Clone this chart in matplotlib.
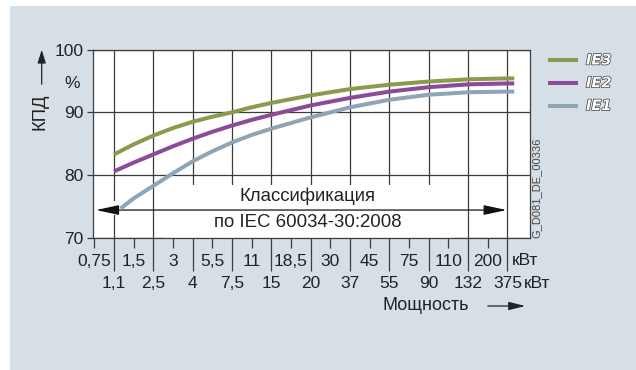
import matplotlib
matplotlib.use("Agg")
import matplotlib.pyplot as plt
import matplotlib.patheffects as pe
from matplotlib.patches import Rectangle, FancyArrowPatch

# x categories (kW): upper row at even slots, lower row at odd slots
power_top = ['0,75', '1,5', '3', '5,5', '11', '18,5', '30', '45', '75', '110', '200']
power_bottom = ['1,1', '2,5', '4', '7,5', '15', '20', '37', '55', '90', '132', '375']

# efficiency curves (%) read at these categories
curve_kw = ['1,1', '1,5', '2,5', '3', '4', '5,5', '7,5', '11', '15', '20',
            '37', '55', '90', '132', '375']
ie3 = [83.3, 84.9, 86.3, 87.5, 88.5, 89.3, 90.0, 90.8, 91.5, 92.7,
       93.7, 94.4, 94.9, 95.25, 95.4]
ie2 = [80.6, 82.0, 83.3, 84.6, 85.8, 86.9, 87.9, 88.8, 89.6, 91.1,
       92.3, 93.3, 94.0, 94.45, 94.6]
ie1 = [74.7, 76.3, 78.3, 80.3, 82.2, 83.8, 85.2, 86.4, 87.4, 89.2,
       90.8, 92.0, 92.8, 93.2, 93.3]

y_ticks = [70, 80, 90, 100]
series_names = ['IE3', 'IE2', 'IE1']
series_colors = ['#8a9b4e', '#8b4b99', '#8fa4b4']

W, H = 636, 370
FONT = 'Liberation Sans'
plt.rcParams['font.family'] = [FONT, 'DejaVu Sans']


def fx(x):
    return x / W


def fy(y):
    return 1 - y / H


# slot index of every category
all_labels = []
for t, b in zip(power_top, power_bottom):
    all_labels += [t, b]
slot = {lab: i for i, lab in enumerate(all_labels)}

fig = plt.figure(figsize=(W / 100, H / 100), dpi=100)
fig.patch.set_facecolor('white')
bg = Rectangle((fx(10), 0), 1 - fx(10), fy(6), transform=fig.transFigure,
               facecolor='#d6dfe6', edgecolor='none', zorder=-10)
fig.add_artist(bg)

ax = fig.add_axes([fx(93.3), fy(238), fx(530) - fx(93.3), fy(49.5) - fy(238)])
ax.set_facecolor('white')
ax.set_xlim(-0.05, 22.15)
ax.set_ylim(70, 100)

grid_c = '#3c3c3c'
for s in ax.spines.values():
    s.set_color(grid_c)
    s.set_linewidth(0.9)

ax.set_xticks(range(1, 22, 2), labels=power_bottom)
ax.set_xticks(range(0, 22, 2), labels=power_top, minor=True)
ax.tick_params(axis='x', which='major', length=23.5, width=0.9, color=grid_c,
               pad=3.8, labelsize=12.5, labelcolor='#222222')
ax.tick_params(axis='x', which='minor', length=7, width=0.9, color=grid_c,
               pad=4.6, labelsize=12.5, labelcolor='#222222')
ax.set_yticks(y_ticks)
ax.tick_params(axis='y', length=4.5, width=0.9, color=grid_c, pad=2.5,
               labelsize=12.5, labelcolor='#222222')
ax.grid(True, which='major', color=grid_c, linewidth=0.9)
ax.set_axisbelow(True)

# classification box and arrow
ax.add_patch(Rectangle((3.6, 70), 14.7, 8.5, facecolor='white', edgecolor='none', zorder=1))
ax.add_patch(Rectangle((0.92, 73.6), 0.25, 2.3, facecolor='white', edgecolor='none', zorder=1))
ax.annotate('', xy=(0.09, 74.45), xytext=(20.96, 74.45),
            arrowprops=dict(arrowstyle='<|-|>,head_length=1.4,head_width=0.3',
                            color='#111111', lw=0.9, mutation_scale=10,
                            shrinkA=0, shrinkB=0), zorder=2)
ax.text(10.85, 76.6, 'Классификация', ha='center', va='center', fontsize=13.4,
        color='#222222', zorder=2)
ax.text(10.85, 72.5, 'по IEC 60034-30:2008', ha='center', va='center', fontsize=13.4,
        color='#222222', zorder=2)

# curves
for name, vals, col in zip(series_names, [ie3, ie2, ie1], series_colors):
    xs = [slot[k] for k in curve_kw]
    if name == 'IE1':
        xs[0] += 0.34
    xs = xs + [xs[-1] + 0.35]
    ys = list(vals) + [vals[-1]]
    ax.plot(xs, ys, color=col, linewidth=2.9, solid_capstyle='butt',
            solid_joinstyle='round', zorder=3)

# legend
for i, (name, col) in enumerate(zip(series_names, series_colors)):
    y = 60 + i * 22.8
    fig.add_artist(plt.Line2D([fx(550), fx(576)], [fy(y), fy(y)], color=col, linewidth=2.9,
                              transform=fig.transFigure))
    fig.text(fx(586), fy(y), name, ha='left', va='center', fontsize=10.5, style='italic',
             weight='bold', family='DejaVu Sans', color='white',
             path_effects=[pe.withStroke(linewidth=1.0, foreground='#3a3a3a')])

# texts around the axes
fig.text(fx(537), fy(188), 'G_D081_DE_00336', rotation=90, ha='center', va='center',
         fontsize=8, color='#444444')
fig.text(fx(72), fy(83), '%', ha='center', va='center', fontsize=12.5, color='#222222')
fig.text(fx(40), fy(112), 'КПД', rotation=90, ha='center', va='center', fontsize=13.3,
         color='#222222')
fig.add_artist(FancyArrowPatch((fx(41.7), fy(87)), (fx(41.7), fy(47)), transform=fig.transFigure,
                               arrowstyle='-|>,head_length=0.8,head_width=0.25',
                               mutation_scale=10, color='#222222', lw=0.9))
fig.text(fx(512), fy(260.7), 'кВт', ha='left', va='center', fontsize=12.5, color='#222222')
fig.text(fx(524), fy(283.5), 'кВт', ha='left', va='center', fontsize=12.5, color='#222222')
fig.text(fx(426), fy(306), 'Мощность', ha='center', va='center', fontsize=13, color='#222222')
fig.add_artist(FancyArrowPatch((fx(485), fy(306)), (fx(528), fy(306)), transform=fig.transFigure,
                               arrowstyle='-|>,head_length=1.0,head_width=0.25',
                               mutation_scale=10, color='#222222', lw=0.9))

fig.savefig('out.png', dpi=100, facecolor=fig.get_facecolor())
